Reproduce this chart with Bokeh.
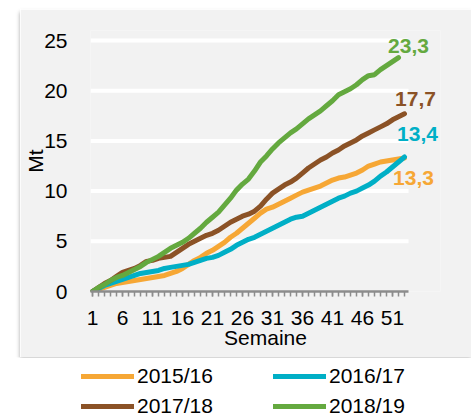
from bokeh.plotting import figure
from bokeh.models import FixedTicker, Label, Legend, LegendItem, Spacer
from bokeh.layouts import column, row
from bokeh.embed import file_html
from bokeh.resources import INLINE

# ---------------- data ----------------
weeks = list(range(1, 54))
s_2015_16 = [0.0, 0.2, 0.4, 0.6, 0.8, 0.9, 1.0, 1.1, 1.2, 1.3, 1.4, 1.5, 1.6, 1.8, 2.0, 2.3,
             2.7, 3.1, 3.4, 3.8, 4.1, 4.5, 4.9, 5.4, 5.8, 6.3, 6.8, 7.3, 7.8, 8.2, 8.4, 8.7,
             9.0, 9.3, 9.6, 9.9, 10.1, 10.3, 10.5, 10.8, 11.1, 11.3, 11.4, 11.6, 11.8, 12.1,
             12.5, 12.7, 12.9, 13.0, 13.1, 13.2, 13.3]
s_2016_17 = [0.0, 0.3, 0.6, 0.8, 1.0, 1.2, 1.4, 1.6, 1.8, 1.9, 2.0, 2.1, 2.3, 2.4, 2.5, 2.6,
             2.7, 2.9, 3.1, 3.3, 3.4, 3.6, 3.9, 4.2, 4.6, 4.9, 5.2, 5.4, 5.7, 6.0, 6.3, 6.6,
             6.9, 7.2, 7.4, 7.5, 7.8, 8.1, 8.4, 8.7, 9.0, 9.3, 9.5, 9.8, 10.0, 10.3, 10.6,
             11.0, 11.5, 11.9, 12.4, 12.9, 13.4]
s_2017_18 = [0.0, 0.4, 0.8, 1.1, 1.5, 1.9, 2.1, 2.3, 2.6, 3.0, 3.1, 3.3, 3.4, 3.5, 3.9, 4.3,
             4.7, 5.0, 5.3, 5.6, 5.8, 6.1, 6.5, 6.9, 7.2, 7.5, 7.7, 8.0, 8.5, 9.2, 9.8, 10.2,
             10.6, 10.9, 11.3, 11.8, 12.3, 12.7, 13.1, 13.4, 13.8, 14.1, 14.5, 14.8, 15.1,
             15.5, 15.8, 16.1, 16.4, 16.7, 17.1, 17.4, 17.7]
s_2018_19 = [0.0, 0.4, 0.7, 1.1, 1.4, 1.6, 1.9, 2.2, 2.5, 2.9, 3.2, 3.5, 3.9, 4.3, 4.6, 4.9,
             5.3, 5.8, 6.3, 6.9, 7.4, 7.9, 8.6, 9.3, 10.1, 10.7, 11.2, 12.0, 12.9, 13.5, 14.2,
             14.8, 15.3, 15.8, 16.2, 16.7, 17.2, 17.6, 18.0, 18.5, 19.0, 19.6, 19.9, 20.2,
             20.6, 21.1, 21.5, 21.6, 22.1, 22.5, 22.9, 23.3]
series_names = ["2015/16", "2016/17", "2017/18", "2018/19"]
end_labels = ["13,3", "13,4", "17,7", "23,3"]
x_tick_values = [1, 6, 11, 16, 21, 26, 31, 36, 41, 46, 51]
y_tick_values = [0, 5, 10, 15, 20, 25]

# ---------------- style ----------------
FONT = "Liberation Sans"
colors = ["#F6A735", "#00AFC6", "#8B5226", "#64A93F"]
label_offsets = [(9, -20), (13, 23), (11, 15), (10, 12)]
series = [s_2015_16, s_2016_17, s_2017_18, s_2018_19]
PANEL = "#F2F2F2"
X_LO, X_HI = 0.667, 53.667      # extent of the category axis (weeks)

p = figure(width=451, height=348, output_backend="svg", toolbar_location=None,
           x_range=(X_LO, 59.0), y_range=(0, 26),
           min_border_left=70, min_border_right=31, min_border_top=21, min_border_bottom=66,
           background_fill_color=PANEL, border_fill_color=PANEL, outline_line_color=None)

# horizontal gridlines limited to the axis extent
grid_y = y_tick_values[1:]
p.segment(x0=[X_LO] * len(grid_y), x1=[X_HI] * len(grid_y), y0=grid_y, y1=grid_y,
          line_color="white", line_width=4)

for vals, c in zip(series, colors):
    p.line(weeks[:len(vals)], vals, line_color=c, line_width=5,
           line_join="round", line_cap="round")

for vals, c, txt, (dx, dy) in zip(series, colors, end_labels, label_offsets):
    p.add_layout(Label(x=weeks[len(vals) - 1], y=vals[-1], text=txt,
                       x_offset=dx, y_offset=dy, text_color=c,
                       text_font=FONT, text_font_size="21px", text_font_style="bold",
                       text_align="center", text_baseline="middle"))

p.grid.visible = False

# y axis
p.yaxis.ticker = FixedTicker(ticks=y_tick_values)
p.yaxis.axis_line_color = None
p.yaxis.major_tick_line_color = None
p.yaxis.minor_tick_line_color = None
p.yaxis.major_label_standoff = 17
p.yaxis.axis_label = "Mt"
p.yaxis.axis_label_standoff = -6
p.yaxis.axis_label_text_font_style = "normal"

# x axis
p.xaxis.bounds = (X_LO, X_HI)
p.xaxis.ticker = FixedTicker(ticks=x_tick_values, minor_ticks=weeks)
p.xaxis.axis_line_color = "#8C8C8C"
p.xaxis.axis_line_width = 2.5
p.xaxis.major_tick_line_color = "#8C8C8C"
p.xaxis.minor_tick_line_color = "#8C8C8C"
p.xaxis.major_tick_line_width = 1.5
p.xaxis.minor_tick_line_width = 1.5
p.xaxis.major_tick_in = 0
p.xaxis.major_tick_out = 5
p.xaxis.minor_tick_in = 0
p.xaxis.minor_tick_out = 5
p.xaxis.major_label_standoff = 14
p.xaxis.axis_label = "Semaine"
p.xaxis.axis_label_standoff = -2
p.xaxis.axis_label_text_font_style = "normal"

for ax in (p.xaxis, p.yaxis):
    ax.major_label_text_font = FONT
    ax.major_label_text_font_size = "21px"
    ax.major_label_text_color = "black"
    ax.axis_label_text_font = FONT
    ax.axis_label_text_font_size = "21px"
    ax.axis_label_text_color = "black"

p.styles = {"box-shadow": "0px 3px 4px rgba(0,0,0,0.35)"}

# ---------------- legend ----------------
lg = figure(width=471, height=60, output_backend="svg", toolbar_location=None,
            x_range=(-100, -99), y_range=(-100, -99), x_axis_type=None, y_axis_type=None,
            min_border=0, outline_line_color=None, border_fill_color="white",
            background_fill_color="white")
lg.grid.visible = False
items = []
for name, vals, c in zip(series_names, series, colors):
    r = lg.line(weeks[:len(vals)], vals, line_color=c, line_width=5, line_cap="round")
    items.append(LegendItem(label=name, renderers=[r]))
legend = Legend(items=items, location=(81, -1), orientation="horizontal", ncols=2,
                glyph_width=53, glyph_height=24, label_standoff=3, label_width=130,
                label_height=24, spacing=6, padding=0, margin=0,
                border_line_color=None, background_fill_alpha=0,
                label_text_font=FONT, label_text_font_size="21px",
                label_text_color="black")
lg.add_layout(legend)

layout = column(Spacer(width=471, height=9), row(Spacer(width=20, height=348), p), lg,
                spacing=0)

open("out.html", "w").write(file_html(layout, INLINE))
